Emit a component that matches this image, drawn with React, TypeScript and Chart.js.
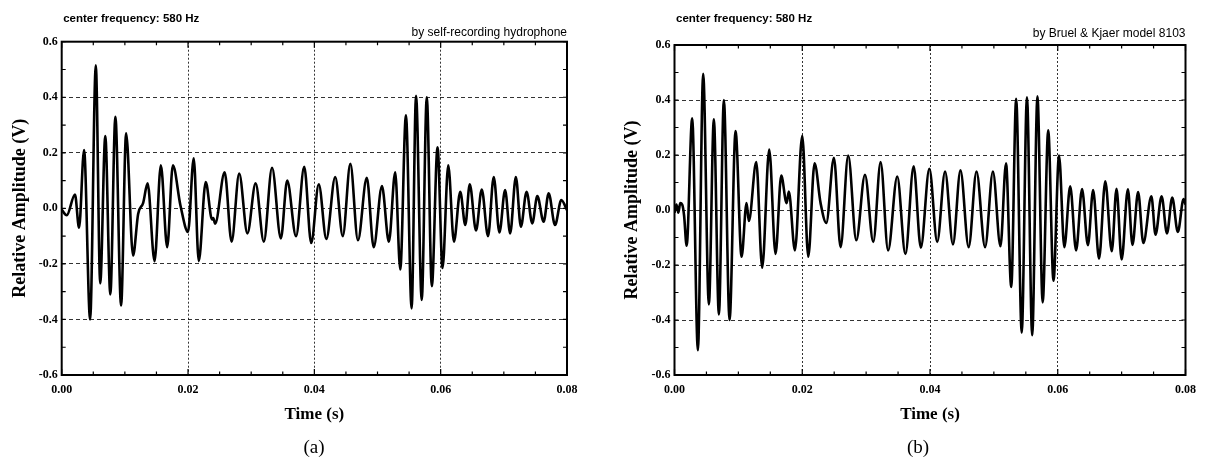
import React, { useEffect, useRef } from "react";
import { Chart, registerables } from "chart.js";

Chart.register(...registerables);

// ---------- data ----------
const TIME_A = [
  0.0, 0.0008, 0.0021, 0.00275, 0.00354, 0.0045, 0.0054, 0.0061, 0.0069, 0.0077,
  0.0085, 0.0094, 0.0102, 0.0113, 0.0121, 0.0129, 0.0136, 0.0147, 0.0157, 0.0167,
  0.0176, 0.0188, 0.02, 0.0209, 0.0217, 0.0228, 0.0238, 0.024, 0.0243, 0.0258,
  0.0269, 0.0281, 0.0294, 0.0307, 0.032, 0.0333, 0.0347, 0.0357, 0.0371, 0.0384,
  0.0395, 0.0407, 0.0419, 0.0433, 0.0445, 0.0457, 0.0469, 0.0483, 0.0494, 0.0507,
  0.0518, 0.0528, 0.0536, 0.0545, 0.0554, 0.0561, 0.057, 0.0578, 0.0586, 0.0595,
  0.0603, 0.0612, 0.0621, 0.0631, 0.0639, 0.0646, 0.0656, 0.0665, 0.0675, 0.0684,
  0.0693, 0.0702, 0.071, 0.0719, 0.0727, 0.0736, 0.0745, 0.0753, 0.0763, 0.0771,
  0.0781, 0.0791, 0.08,
];
const AMP_A = [
  -0.005, -0.025, 0.05, -0.07, 0.21, -0.4, 0.515, -0.27, 0.26, -0.31,
  0.33, -0.35, 0.27, -0.17, -0.02, 0.02, 0.09, -0.19, 0.155, -0.14,
  0.155, 0.01, -0.085, 0.18, -0.19, 0.095, -0.04, -0.035, -0.055, 0.13,
  -0.12, 0.125, -0.09, 0.09, -0.12, 0.146, -0.108, 0.1, -0.1, 0.15,
  -0.125, 0.087, -0.11, 0.113, -0.1, 0.16, -0.115, 0.11, -0.14, 0.08,
  -0.12, 0.13, -0.22, 0.335, -0.36, 0.405, -0.33, 0.4, -0.28, 0.22,
  -0.215, 0.155, -0.12, 0.06, -0.06, 0.087, -0.08, 0.068, -0.1, 0.113,
  -0.087, 0.066, -0.09, 0.113, -0.066, 0.06, -0.054, 0.044, -0.048, 0.054,
  -0.06, 0.03, -0.006,
];

const TIME_B = [
  0.0, 0.0003, 0.0006, 0.0009, 0.0012, 0.0015, 0.0019, 0.00277, 0.00366, 0.00449,
  0.00538, 0.00616, 0.00695, 0.00773, 0.00862, 0.00956, 0.0105, 0.01128, 0.01164, 0.0128,
  0.01373, 0.01483, 0.01582, 0.01671, 0.01755, 0.0179, 0.01885, 0.02, 0.02094, 0.02193,
  0.02287, 0.02376, 0.02496, 0.026, 0.0272, 0.02846, 0.02982, 0.03112, 0.03227, 0.03344,
  0.03487, 0.03615, 0.03744, 0.03856, 0.0399, 0.04113, 0.04236, 0.04359, 0.04477, 0.04605,
  0.04728, 0.04862, 0.04985, 0.05103, 0.0519, 0.05272, 0.05349, 0.05436, 0.05518, 0.056,
  0.05682, 0.05764, 0.05851, 0.05933, 0.0602, 0.06103, 0.06195, 0.06287, 0.0638, 0.06472,
  0.06554, 0.06646, 0.06744, 0.06846, 0.0692, 0.07, 0.07098, 0.0717, 0.07258, 0.0734,
  0.07466, 0.0753, 0.07626, 0.0771, 0.07792, 0.0788, 0.0797, 0.08,
];
const AMP_B = [
  -0.01, 0.02, -0.01, 0.025, 0.02, -0.02, -0.13, 0.333, -0.51, 0.495,
  -0.343, 0.33, -0.38, 0.4, -0.4, 0.287, -0.17, 0.025, -0.04, 0.174,
  -0.21, 0.22, -0.16, 0.125, 0.025, 0.067, -0.147, 0.27, -0.17, 0.17,
  0.025, -0.047, 0.19, -0.135, 0.198, -0.11, 0.128, -0.116, 0.174, -0.147,
  0.122, -0.16, 0.159, -0.137, 0.15, -0.116, 0.14, -0.125, 0.144, -0.135,
  0.14, -0.135, 0.14, -0.132, 0.17, -0.28, 0.404, -0.446, 0.41, -0.455,
  0.413, -0.336, 0.29, -0.257, 0.198, -0.135, 0.086, -0.147, 0.076, -0.128,
  0.073, -0.177, 0.104, -0.15, 0.077, -0.18, 0.075, -0.127, 0.065, -0.12,
  0.05, -0.09, 0.05, -0.085, 0.045, -0.08, 0.04, 0.02,
];

const X_MIN = 0;
const X_MAX = 0.08;
const X_STEP = 0.02;
const X_MINOR_STEP = 0.005;
const Y_MIN = -0.6;
const Y_MAX = 0.6;
const Y_STEP = 0.2;
const Y_MINOR_STEP = 0.1;

const X_TITLE = "Time (s)";
const Y_TITLE = "Relative Amplitude (V)";
const LEFT_NOTE = "center frequency: 580 Hz";

// ---------- layout ----------
const PANEL_W = 603;
const PANEL_H = 461;
const SERIF = '"Liberation Serif", "Times New Roman", serif';
const SANS = '"Liberation Sans", Arial, sans-serif';

type PanelCfg = {
  times: number[];
  amps: number[];
  rightNote: string;
  caption: string;
  areaLeft: number;
  areaRight: number;
  areaTop: number;
  areaBottom: number;
  rightNoteY: number;
  captionX: number;
};

const PANELS: PanelCfg[] = [
  {
    times: TIME_A,
    amps: AMP_A,
    rightNote: "by self-recording hydrophone",
    caption: "(a)",
    areaLeft: 61.7,
    areaRight: 567,
    areaTop: 41.7,
    areaBottom: 375,
    rightNoteY: 31.7,
    captionX: 314,
  },
  {
    times: TIME_B,
    amps: AMP_B,
    rightNote: "by Bruel & Kjaer model 8103",
    caption: "(b)",
    areaLeft: 71.5,
    areaRight: 582.5,
    areaTop: 45,
    areaBottom: 375,
    rightNoteY: 33,
    captionX: 315,
  },
];

const framePlugin = {
  id: "frameTicks",
  afterDraw(chart: any) {
    const { ctx, chartArea: a, scales } = chart;
    const xs = scales.x;
    const ys = scales.y;
    ctx.save();
    ctx.strokeStyle = "#000";
    ctx.lineWidth = 1.2;
    ctx.beginPath();
    const nx = Math.round((X_MAX - X_MIN) / X_MINOR_STEP);
    for (let i = 0; i <= nx; i++) {
      const v = X_MIN + i * X_MINOR_STEP;
      const px = xs.getPixelForValue(v);
      const major = i % Math.round(X_STEP / X_MINOR_STEP) === 0;
      const len = major ? 6 : 3.5;
      ctx.moveTo(px, a.bottom);
      ctx.lineTo(px, a.bottom - len);
      ctx.moveTo(px, a.top);
      ctx.lineTo(px, a.top + len);
    }
    const ny = Math.round((Y_MAX - Y_MIN) / Y_MINOR_STEP);
    for (let i = 0; i <= ny; i++) {
      const v = Y_MIN + i * Y_MINOR_STEP;
      const py = ys.getPixelForValue(v);
      const len = 4;
      ctx.moveTo(a.left, py);
      ctx.lineTo(a.left + len, py);
      ctx.moveTo(a.right, py);
      ctx.lineTo(a.right - len, py);
    }
    ctx.stroke();
    ctx.lineWidth = 2;
    ctx.strokeRect(a.left, a.top, a.right - a.left, a.bottom - a.top);
    ctx.restore();
  },
};

function Panel({ cfg }: { cfg: PanelCfg }) {
  const ref = useRef<HTMLCanvasElement | null>(null);

  useEffect(() => {
    if (!ref.current) return;
    const points = cfg.times.map((t, i) => ({ x: t, y: cfg.amps[i] }));
    const tickFont = { family: SERIF, size: 12, weight: "bold" as const };
    const chart = new Chart(ref.current, {
      type: "line",
      data: {
        datasets: [
          {
            data: points,
            borderColor: "#000",
            borderWidth: 2.6,
            pointRadius: 0,
            fill: false,
            cubicInterpolationMode: "monotone",
          },
        ],
      },
      options: {
        responsive: false,
        animation: false,
        devicePixelRatio: 1,
        layout: {
          padding: {
            top: cfg.areaTop,
            left: 0,
            right: PANEL_W - cfg.areaRight,
            bottom: 0,
          },
        },
        plugins: {
          legend: { display: false },
          tooltip: { enabled: false },
        },
        scales: {
          x: {
            type: "linear",
            min: X_MIN,
            max: X_MAX,
            afterFit: (s: any) => {
              s.height = PANEL_H - cfg.areaBottom;
            },
            ticks: {
              stepSize: X_STEP,
              autoSkip: false,
              maxRotation: 0,
              padding: 8,
              color: "#000",
              font: tickFont,
              callback: (v: any) => Number(v).toFixed(2),
            },
            grid: {
              drawTicks: false,
              color: "rgba(0,0,0,0.8)",
              lineWidth: 1,
            },
            border: { display: false, dash: [2, 2] },
            title: {
              display: true,
              text: X_TITLE,
              color: "#000",
              font: { family: SERIF, size: 17, weight: "bold" },
              padding: { top: 0, bottom: 36.5 },
            },
          },
          y: {
            type: "linear",
            min: Y_MIN,
            max: Y_MAX,
            afterFit: (s: any) => {
              s.width = cfg.areaLeft;
            },
            ticks: {
              stepSize: Y_STEP,
              autoSkip: false,
              padding: 4,
              color: "#000",
              font: tickFont,
              callback: (v: any) => {
                const n = Number(v);
                return Math.abs(n) < 1e-9 ? "0.0" : n.toFixed(1);
              },
            },
            grid: {
              drawTicks: false,
              color: "rgba(0,0,0,0.8)",
              lineWidth: 1,
            },
            border: { display: false, dash: [4, 3] },
            title: {
              display: true,
              text: Y_TITLE,
              color: "#000",
              font: { family: SERIF, size: 18, weight: "bold" },
              padding: { top: cfg.areaLeft - 41.7 - 10.8, bottom: 0 },
            },
          },
        },
      },
      plugins: [framePlugin],
    });
    return () => chart.destroy();
  }, [cfg]);

  return (
    <div style={{ position: "relative", width: PANEL_W, height: PANEL_H }}>
      <canvas
        ref={ref}
        width={PANEL_W}
        height={PANEL_H}
        style={{ position: "absolute", left: 0, top: 0, width: PANEL_W, height: PANEL_H }}
      />
      <div
        style={{
          position: "absolute",
          left: cfg.areaLeft + 1.5,
          top: 11.5,
          font: `bold 11.5px ${SANS}`,
          lineHeight: "12px",
          whiteSpace: "nowrap",
          color: "#000",
        }}
      >
        {LEFT_NOTE}
      </div>
      <div
        style={{
          position: "absolute",
          right: PANEL_W - cfg.areaRight,
          top: cfg.rightNoteY - 6,
          font: `12px ${SANS}`,
          lineHeight: "12px",
          whiteSpace: "nowrap",
          color: "#000",
          textAlign: "right",
        }}
      >
        {cfg.rightNote}
      </div>
      <div
        style={{
          position: "absolute",
          left: cfg.captionX - 30,
          width: 60,
          top: 437,
          font: `19px ${SERIF}`,
          lineHeight: "19px",
          textAlign: "center",
          color: "#000",
        }}
      >
        {cfg.caption}
      </div>
    </div>
  );
}

export default function App() {
  return (
    <div
      style={{
        position: "absolute",
        left: 0,
        top: 0,
        width: 1206,
        height: 461,
        display: "flex",
        background: "#fff",
      }}
    >
      {PANELS.map((p, i) => (
        <Panel key={i} cfg={p} />
      ))}
    </div>
  );
}
